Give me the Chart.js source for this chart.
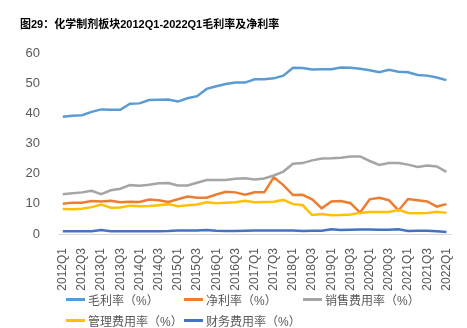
<!DOCTYPE html>
<html>
<head>
<meta charset="utf-8">
<script src="https://cdn.jsdelivr.net/npm/chart.js@4/dist/chart.umd.min.js"></script>
<style>
body{margin:0;background:#fff;font-family:"Liberation Sans","Noto Sans CJK SC",sans-serif;}
#wrap{position:relative;width:467px;height:328px;overflow:hidden;}
#titulo{position:absolute;left:20px;top:15px;font-size:11px;font-weight:bold;color:#000;white-space:nowrap;}
#caja{position:absolute;left:0;top:0;width:467px;height:295px;}
#leyenda{position:absolute;left:0;top:0;width:467px;height:328px;pointer-events:none;}
.item{position:absolute;display:flex;align-items:center;font-size:12px;color:#595959;white-space:nowrap;}
.item span.linea{display:inline-block;width:19px;height:3px;margin-right:3px;}
</style>
</head>
<body>
<div id="wrap">
<div id="caja"><canvas id="grafico"></canvas></div>
<div id="titulo">图29：化学制剂板块2012Q1-2022Q1毛利率及净利率</div>
<div id="leyenda"></div>
</div>
<script>
const trimestres=["2012Q1","2012Q2","2012Q3","2012Q4","2013Q1","2013Q2","2013Q3","2013Q4","2014Q1","2014Q2","2014Q3","2014Q4","2015Q1","2015Q2","2015Q3","2015Q4","2016Q1","2016Q2","2016Q3","2016Q4","2017Q1","2017Q2","2017Q3","2017Q4","2018Q1","2018Q2","2018Q3","2018Q4","2019Q1","2019Q2","2019Q3","2019Q4","2020Q1","2020Q2","2020Q3","2020Q4","2021Q1","2021Q2","2021Q3","2021Q4","2022Q1"];

const margenBruto=[38.9,39.2,39.4,40.5,41.3,41.2,41.2,43.2,43.3,44.4,44.5,44.6,43.9,45.0,45.7,48.1,49.0,49.7,50.2,50.2,51.3,51.3,51.6,52.5,55.1,55.0,54.5,54.6,54.6,55.2,55.1,54.8,54.3,53.6,54.4,53.8,53.6,52.7,52.5,51.9,51.0];
const margenNeto=[10.0,10.4,10.4,10.9,10.8,11.0,10.5,10.7,10.6,11.4,11.2,10.6,11.5,12.4,12.0,12.0,13.1,14.0,13.8,13.0,13.8,13.8,18.8,16.2,12.9,13.0,11.5,8.5,10.8,10.9,10.2,7.1,11.5,12.0,11.2,7.8,11.6,11.2,10.8,9.1,9.9];
const gastoVentas=[13.2,13.5,13.8,14.3,13.2,14.5,15.0,16.2,16.0,16.3,16.8,16.9,16.1,16.1,17.0,17.9,17.9,17.9,18.3,18.5,18.1,18.4,19.4,20.7,23.3,23.5,24.4,25.0,25.1,25.3,25.7,25.7,24.2,22.9,23.5,23.5,23.0,22.2,22.7,22.4,20.6];
const gastoAdmin=[8.3,8.2,8.4,8.9,9.8,8.7,8.8,9.4,9.2,9.3,9.5,9.9,9.2,9.5,9.8,10.5,10.2,10.4,10.5,11.0,10.5,10.6,10.7,11.3,9.9,9.6,6.3,6.6,6.2,6.3,6.5,7.0,7.3,7.3,7.3,8.0,7.0,6.9,7.0,7.4,7.0];
const gastoFinanciero=[0.9,0.9,0.9,0.9,1.3,0.9,0.9,0.9,0.9,0.9,0.9,1.0,1.2,1.2,1.2,1.3,1.1,1.0,1.0,1.1,1.2,1.2,1.2,1.2,1.2,1.0,1.1,1.1,1.6,1.3,1.4,1.5,1.5,1.4,1.4,1.6,1.0,1.1,1.1,0.9,0.7];

const series=[
{nombre:"毛利率（%）",datos:margenBruto,color:"#5B9BD5"},
{nombre:"净利率（%）",datos:margenNeto,color:"#ED7D31"},
{nombre:"销售费用率（%）",datos:gastoVentas,color:"#A5A5A5"},
{nombre:"管理费用率（%）",datos:gastoAdmin,color:"#FFC000"},
{nombre:"财务费用率（%）",datos:gastoFinanciero,color:"#4472C4"}
];

// posiciones de la leyenda tipo excel (columnas)
const posLeyenda=[[66,299],[184,299],[303,299],[66,320],[184,320]];

let fuente="'Liberation Sans','Noto Sans CJK SC',sans-serif";

new Chart(document.getElementById("grafico"),{
type:"line",
data:{
labels:trimestres,
datasets:series.map((s,i)=>({
label:s.nombre,
data:s.datos,
borderColor:s.color,
backgroundColor:s.color,
borderWidth:2.5,
pointRadius:0,
tension:0,
order:5-i
}))
},
options:{
responsive:true,
maintainAspectRatio:false,
animation:false,
layout:{padding:{top:53,right:14,left:0,bottom:0}},
plugins:{legend:{display:false},tooltip:{enabled:false}},
scales:{
x:{
offset:true,
grid:{display:false},
border:{display:true,color:"#D9D9D9",width:1},
ticks:{
autoSkip:false,
maxRotation:90,
minRotation:90,
padding:6,
color:"#595959",
font:{family:fuente,size:12},
callback:function(v,i){return i%2===0?this.getLabelForValue(v):"";}
},
afterFit:function(s){s.height=61;}
},
y:{
min:0,
max:60,
grid:{display:false},
border:{display:false},
ticks:{
stepSize:10,
padding:10,
color:"#595959",
font:{family:fuente,size:13}
},
afterFit:function(s){s.width=58;}
}
}
}
});

let html="";
series.forEach((s,i)=>{
html+=`<div class="item" style="left:${posLeyenda[i][0]}px;top:${posLeyenda[i][1]-9}px;height:18px;"><span class="linea" style="background:${s.color}"></span>${s.nombre}</div>`;
});
document.getElementById("leyenda").innerHTML=html;
</script>
</body>
</html>
